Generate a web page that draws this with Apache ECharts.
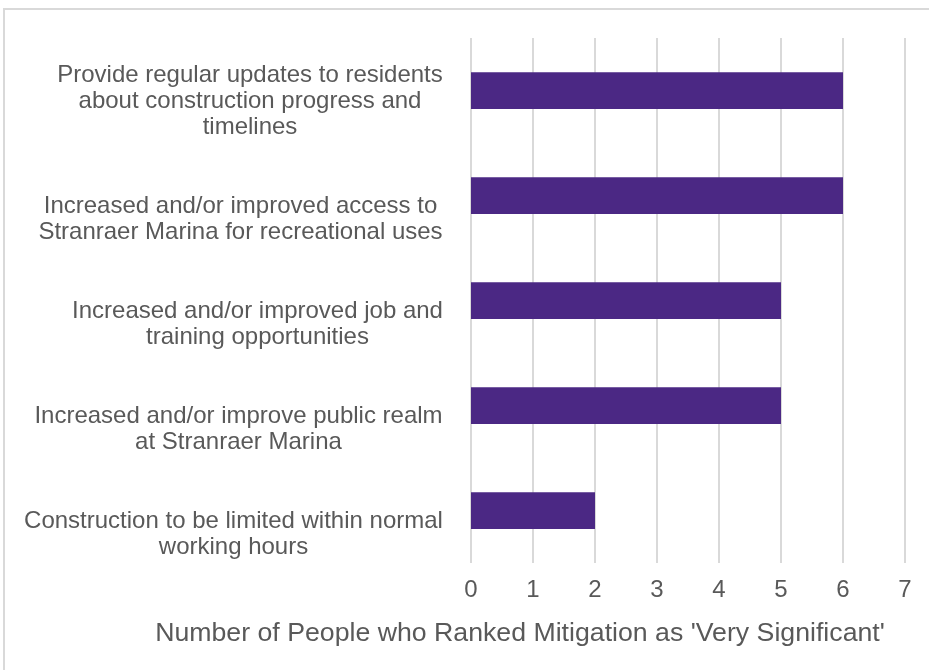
<!DOCTYPE html>
<html>
<head>
<meta charset="utf-8">
<script src="https://cdn.jsdelivr.net/npm/echarts@6/dist/echarts.min.js"></script>
<style>
  html, body { margin: 0; padding: 0; background: #fff; }
  #chart { width: 929px; height: 670px; }
</style>
</head>
<body>
<div id="chart"></div>
<script>
// Mitigation measures, listed top to bottom
const categories = [
  'Provide regular updates to residents\nabout construction progress and\ntimelines',
  'Increased and/or improved access to\nStranraer Marina for recreational uses',
  'Increased and/or improved job and\ntraining opportunities',
  'Increased and/or improve public realm\nat Stranraer Marina',
  'Construction to be limited within normal\nworking hours'
];
// Number of people ranking each measure as very significant
const verySignificant = [6, 6, 5, 5, 2];
const xTicks = [0, 1, 2, 3, 4, 5, 6, 7];
const xAxisTitle = "Number of People who Ranked Mitigation as 'Very Significant'";

const font = 'Arial, "Liberation Sans", sans-serif';
const labelSize = 24;
const lineH = 26;
const blockH = 100; // label block height; text sits at its bottom

// Each category label: lines centred inside a box as wide as its longest line,
// the box right-aligned against the plot, text bottom-aligned in the block.
const measureCtx = document.createElement('canvas').getContext('2d');
measureCtx.font = labelSize + 'px ' + font;
const rich = {};
categories.forEach((c, i) => {
  const lines = c.split('\n');
  const w = Math.ceil(Math.max(...lines.map(l => measureCtx.measureText(l).width)));
  rich['t' + i] = {
    width: w, align: 'center', fontSize: labelSize, lineHeight: lineH,
    color: '#595959', fontFamily: font
  };
  rich['s' + i] = {
    width: w, fontSize: 1, lineHeight: blockH - lines.length * lineH,
    height: blockH - lines.length * lineH
  };
});

const chart = echarts.init(document.getElementById('chart'), null, { renderer: 'canvas' });

chart.setOption({
  animation: false,
  backgroundColor: '#ffffff',
  graphic: [{
    type: 'rect',
    shape: { x: 4, y: 9, width: 1000, height: 1000 },
    style: { fill: 'none', stroke: '#d9d9d9', lineWidth: 2 },
    silent: true
  }],
  grid: {
    left: 471, right: 24, top: 38, bottom: 107,
    containLabel: false, outerBoundsMode: 'none'
  },
  xAxis: {
    type: 'value',
    min: xTicks[0],
    max: xTicks[xTicks.length - 1],
    interval: 1,
    axisLine: { show: false },
    axisTick: { show: false },
    splitLine: { show: true, lineStyle: { color: '#d9d9d9', width: 2 } },
    axisLabel: {
      color: '#595959', fontSize: 24, fontFamily: font, margin: 15
    },
    name: xAxisTitle,
    nameLocation: 'middle',
    nameGap: 57,
    nameTextStyle: { color: '#595959', fontSize: 26.7, fontFamily: font, padding: [0, 336, 0, 0] }
  },
  yAxis: {
    type: 'category',
    data: categories,
    inverse: true,
    axisLine: { show: false },
    axisTick: { show: false },
    splitLine: { show: false },
    axisLabel: {
      interval: 0,
      color: '#595959', fontSize: labelSize, fontFamily: font,
      align: 'right', verticalAlign: 'middle', margin: 28,
      formatter: (value, index) => {
        const lines = value.split('\n').map(l => '{t' + index + '|' + l + '}');
        return ['{s' + index + '| }'].concat(lines).join('\n');
      },
      rich: rich
    }
  },
  series: [{
    type: 'bar',
    data: verySignificant,
    barWidth: '35%',
    itemStyle: { color: '#4b2884' }
  }]
});
</script>
</body>
</html>
